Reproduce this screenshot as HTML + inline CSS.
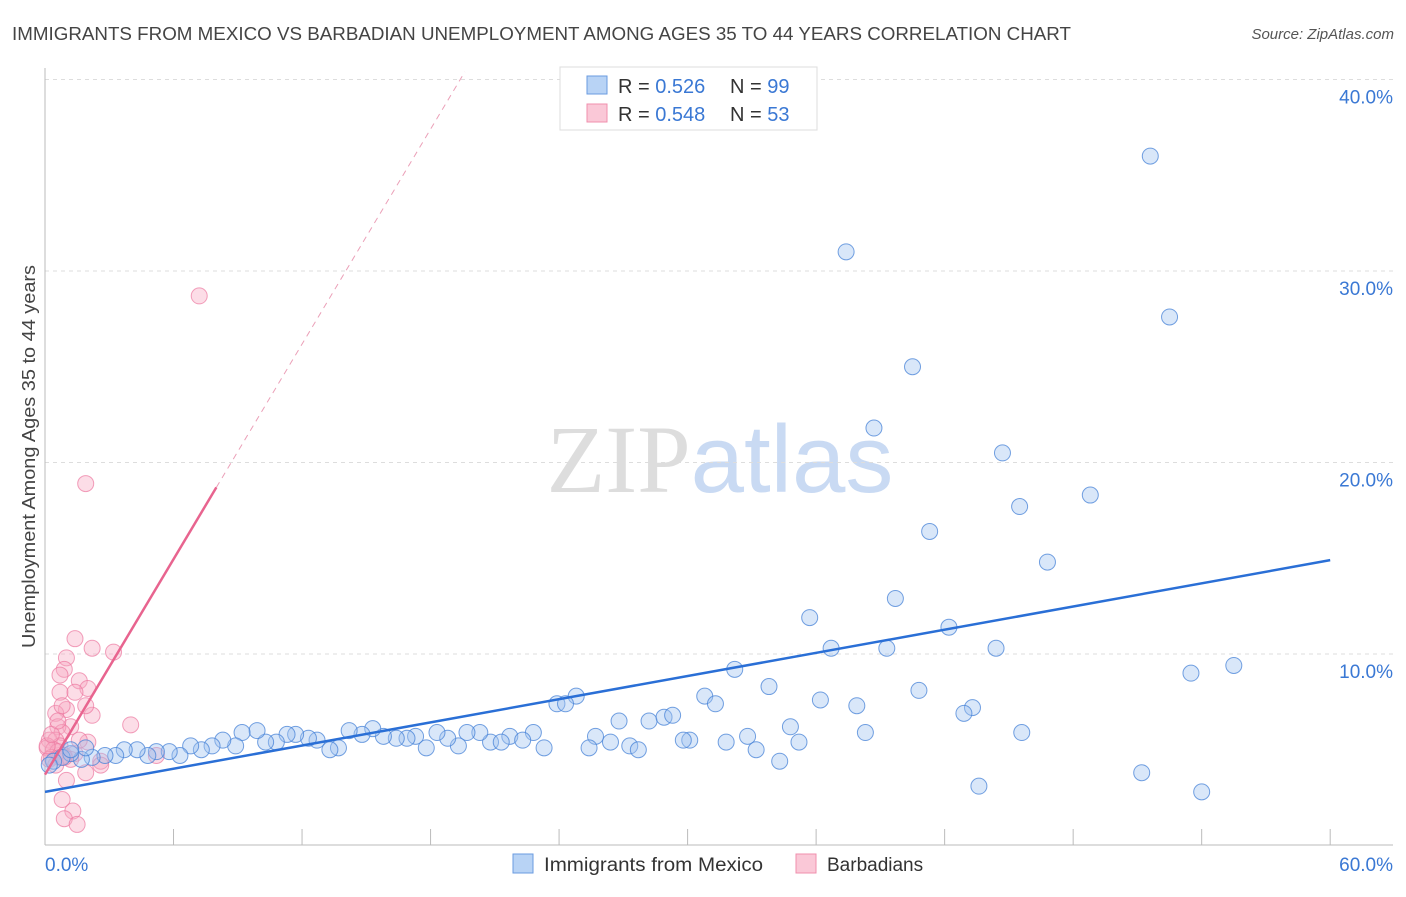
<!DOCTYPE html>
<html><head><meta charset="utf-8"><style>
body{margin:0;background:#fff;font-family:"Liberation Sans",sans-serif;}
</style></head><body>
<svg width="1406" height="892" xmlns="http://www.w3.org/2000/svg" font-family="Liberation Sans, sans-serif">
<text x="12" y="40" font-size="18" fill="#444" textLength="1059" lengthAdjust="spacingAndGlyphs">IMMIGRANTS FROM MEXICO VS BARBADIAN UNEMPLOYMENT AMONG AGES 35 TO 44 YEARS CORRELATION CHART</text>
<text x="1394" y="39" font-size="15" fill="#555" font-style="italic" text-anchor="end">Source: ZipAtlas.com</text>
<text x="35" y="648" font-size="18" fill="#444" textLength="383" lengthAdjust="spacingAndGlyphs" transform="rotate(-90 35 648)">Unemployment Among Ages 35 to 44 years</text>
<text x="720" y="492" font-size="96" text-anchor="middle"><tspan fill="#ddd" font-family="Liberation Serif, serif">ZIP</tspan><tspan fill="#c9daf3">atlas</tspan></text>
<g id="grid"></g>
<g id="pts"></g>
<g id="lines"></g>
<rect x="560" y="67" width="257" height="63" fill="#fff" stroke="#ddd"/>
<rect x="587" y="76" width="20" height="18" fill="#b8d3f5" stroke="#6a9be0"/>
<rect x="587" y="104" width="20" height="18" fill="#fac8d7" stroke="#f08fae"/>
<text x="618" y="93" font-size="20" fill="#333">R = <tspan fill="#3a78d4">0.526</tspan></text>
<text x="730" y="93" font-size="20" fill="#333">N = <tspan fill="#3a78d4">99</tspan></text>
<text x="618" y="121" font-size="20" fill="#333">R = <tspan fill="#3a78d4">0.548</tspan></text>
<text x="730" y="121" font-size="20" fill="#333">N = <tspan fill="#3a78d4">53</tspan></text>
<rect x="513" y="854" width="20" height="19" fill="#b8d3f5" stroke="#6a9be0"/>
<text x="544" y="871" font-size="19" fill="#333" textLength="219" lengthAdjust="spacingAndGlyphs">Immigrants from Mexico</text>
<rect x="796" y="854" width="20" height="19" fill="#fac8d7" stroke="#f08fae"/>
<text x="827" y="871" font-size="19" fill="#333">Barbadians</text>
</svg>
<script>
const yTicks=[10,20,30,40];
const yTickLabels=["10.0%","20.0%","30.0%","40.0%"];
const xTickVals=[0,6,12,18,24,30,36,42,48,54,60];
const xEndLabels=["0.0%","60.0%"];
const blueX=[51.6,37.4,40.5,38.7,52.5,44.7,48.8,45.5,41.3,46.8,39.7,35.7,42.2,36.7,39.3,44.4,53.5,55.5,32.2,33.8,40.8,30.8,31.3,36.2,37.9,43.3,42.9,24.8,23.9,24.3,26.8,28.2,28.9,29.3,34.8,38.3,45.6,32.8,35.2,30.1,29.8,31.8,33.2,34.3,26.4,25.7,25.4,27.3,27.7,51.2,43.6,54.0,22.8,23.3,21.7,22.3,20.8,21.3,20.3,19.7,19.3,18.8,18.3,17.8,17.3,16.9,16.4,15.8,15.3,14.8,14.2,13.7,13.3,12.7,12.3,11.7,11.3,10.8,10.3,9.9,9.2,8.9,8.3,7.8,7.3,6.8,6.3,5.8,5.2,4.8,4.3,3.7,3.3,2.8,2.2,1.7,1.2,0.8,0.4,0.2,1.9,1.2];
const blueY=[36.0,31.0,25.0,21.8,27.6,20.5,18.3,17.7,16.4,14.8,12.9,11.9,11.4,10.3,10.3,10.3,9.0,9.4,9.2,8.3,8.1,7.8,7.4,7.6,7.3,7.2,6.9,7.8,7.4,7.4,6.5,6.5,6.7,6.8,6.2,5.9,5.9,5.7,5.4,5.5,5.5,5.4,5.0,4.4,5.4,5.7,5.1,5.2,5.0,3.8,3.1,2.8,5.9,5.1,5.7,5.5,5.4,5.4,5.9,5.9,5.2,5.6,5.9,5.1,5.7,5.6,5.6,5.7,6.1,5.8,6.0,5.1,5.0,5.5,5.6,5.8,5.8,5.4,5.4,6.0,5.9,5.2,5.5,5.2,5.0,5.2,4.7,4.9,4.9,4.7,5.0,5.0,4.7,4.7,4.6,4.5,4.8,4.6,4.4,4.2,5.1,5.0];
const pinkX=[7.2,1.9,1.4,2.2,3.2,1.0,0.9,0.7,1.6,2.0,0.7,1.4,1.0,2.2,0.5,4.0,1.2,0.6,0.8,0.2,0.5,0.7,0.1,0.4,0.6,0.9,1.4,2.0,0.3,0.7,1.2,2.6,5.2,1.0,1.9,0.8,1.3,0.9,1.5,0.2,0.5,0.1,0.3,0.6,0.8,1.9,0.9,2.6,1.6];
const pinkY=[28.7,18.9,10.8,10.3,10.1,9.8,9.2,8.9,8.6,8.2,8.0,8.0,7.1,6.8,6.9,6.3,6.2,6.2,5.9,5.5,5.5,5.2,5.1,5.0,4.9,4.7,4.8,5.4,4.6,4.6,4.5,4.4,4.7,3.4,3.8,2.4,1.8,1.4,1.1,4.5,4.2,5.2,5.8,6.5,7.3,7.3,4.6,4.2,5.5];
const blueTrend=[[0,2.8],[60,14.9]];
const pinkTrendSolid=[[0,3.7],[8.0,18.7]];
const pinkTrendDash=[[8.0,18.7],[19.6,40.4]];

const NS="http://www.w3.org/2000/svg";
const X=v=>45+v*21.42, Y=v=>845.5-v*19.15;
function mk(tag,attrs,parent){const e=document.createElementNS(NS,tag);for(const k in attrs)e.setAttribute(k,attrs[k]);parent.appendChild(e);return e;}
const grid=document.getElementById('grid');
yTicks.forEach((t,i)=>{
  const l=mk('line',{x1:45,x2:1393,y1:Y(t),y2:Y(t),stroke:'#ddd','stroke-dasharray':'4,4'},grid);
  
  
  const tx=mk('text',{x:1393,y:Y(t)+24,'font-size':19,fill:'#3a78d4','text-anchor':'end'},grid);
  tx.textContent=yTickLabels[i];
  
  
});
const ax=mk('line',{x1:45,x2:45,y1:68,y2:845,stroke:'#bbb'},grid);


const bx=mk('line',{x1:45,x2:1393,y1:845,y2:845,stroke:'#bbb'},grid);


xTickVals.forEach(v=>{
  const t=mk('line',{x1:X(v),x2:X(v),y1:829,y2:845,stroke:'#bbb'},grid);
  
  
});
const xl0=mk('text',{x:45,y:871,'font-size':19,fill:'#3a78d4'},grid);xl0.textContent=xEndLabels[0];


const xl1=mk('text',{x:1393,y:871,'font-size':19,fill:'#3a78d4','text-anchor':'end'},grid);xl1.textContent=xEndLabels[1];


const pts=document.getElementById('pts');
pinkX.forEach((v,i)=>{
  const c=mk('circle',{cx:X(v),cy:Y(pinkY[i]),r:8,fill:'rgba(248,170,195,0.4)',stroke:'rgba(236,120,160,0.7)','stroke-width':1},pts);
  
  
});
blueX.forEach((v,i)=>{
  const c=mk('circle',{cx:X(v),cy:Y(blueY[i]),r:8,fill:'rgba(160,196,240,0.4)',stroke:'rgba(70,130,215,0.75)','stroke-width':1},pts);
  
  
});
const lines=document.getElementById('lines');
const bl=mk('line',{x1:X(blueTrend[0][0]),y1:Y(blueTrend[0][1]),x2:X(blueTrend[1][0]),y2:Y(blueTrend[1][1]),stroke:'#2a6fd6','stroke-width':2.5},lines);


const pl=mk('line',{x1:X(pinkTrendSolid[0][0]),y1:Y(pinkTrendSolid[0][1]),x2:X(pinkTrendSolid[1][0]),y2:Y(pinkTrendSolid[1][1]),stroke:'#e8648f','stroke-width':2.5},lines);


const pd=mk('line',{x1:X(pinkTrendDash[0][0]),y1:Y(pinkTrendDash[0][1]),x2:X(pinkTrendDash[1][0]),y2:Y(pinkTrendDash[1][1]),stroke:'#eba0b8','stroke-width':1,'stroke-dasharray':'6,5'},lines);


</script>
</body></html>
